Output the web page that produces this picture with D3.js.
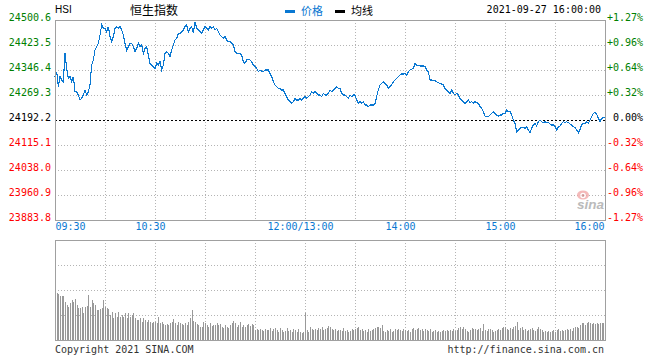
<!DOCTYPE html>
<html><head><meta charset="utf-8">
<script src="https://cdn.jsdelivr.net/npm/d3@7"></script>
<style>
html,body{margin:0;padding:0;background:#fff;}
svg{display:block;}
.mono{font-family:"DejaVu Sans Mono","Liberation Mono",monospace;font-size:10px;}
</style></head><body>
<svg id="c" width="660" height="360"></svg>
<script>
// ---------------- data ----------------
const symbol = "HSI";
const title = "恒生指数";
const dateLabel = "2021-09-27 16:00:00";
const prevClose = 24192.2;
const priceTicks = [24500.6, 24423.5, 24346.4, 24269.3, 24192.2, 24115.1, 24038.0, 23960.9, 23883.8];
const pctTicks = ["+1.27%", "+0.96%", "+0.64%", "+0.32%", " 0.00%", "-0.32%", "-0.64%", "-0.96%", "-1.27%"];
const timeTickPos = [0, 60, 150, 210, 270, 330];          // minutes since 09:30 (lunch removed)
const timeTickLabels = ["09:30", "10:30", "12:00/13:00", "14:00", "15:00", "16:00"];
const legendLabels = ["价格", "均线"];
const footerLeft = "Copyright 2021 SINA.COM";
const footerRight = "http://finance.sina.com.cn";

// one value per trading minute
const prices = [
24325.8,24341.3,24295.0,24325.8,24315.6,24310.4,24397.8,24351.5,24320.7,24325.8,
24310.4,24325.8,24279.6,24279.6,24269.3,24253.9,24259.0,24269.3,24284.7,24269.3,
24279.6,24300.2,24361.8,24377.2,24408.1,24418.4,24428.6,24454.4,24485.2,24474.9,
24474.9,24464.6,24480.0,24449.2,24433.8,24449.2,24474.9,24480.0,24474.9,24480.0,
24469.8,24454.4,24428.6,24408.1,24418.4,24428.6,24428.6,24418.4,24402.9,24413.2,
24428.6,24418.4,24423.5,24397.8,24413.2,24418.4,24392.7,24367.0,24361.8,24356.6,
24351.5,24367.0,24361.8,24372.1,24346.4,24361.8,24397.8,24402.9,24397.8,24387.5,
24408.1,24423.5,24438.9,24444.1,24459.5,24459.5,24464.6,24469.8,24480.0,24485.2,
24464.6,24474.9,24480.0,24459.5,24495.5,24474.9,24469.8,24464.6,24459.5,24469.8,
24480.0,24474.9,24469.8,24480.0,24474.9,24480.0,24469.8,24474.9,24464.6,24454.4,
24449.2,24444.1,24449.2,24438.9,24433.8,24433.8,24428.6,24423.5,24402.9,24397.8,
24397.8,24397.8,24392.7,24372.1,24367.0,24377.2,24379.3,24377.2,
24372.1,24361.8,24356.6,24351.5,24341.3,24346.4,24343.3,24341.3,24346.4,24346.4,
24346.4,24336.1,24325.8,24310.4,24300.2,24295.0,24289.9,24289.9,24284.7,24284.7,
24274.4,24264.2,24253.9,24248.7,24243.6,24248.7,24259.0,24253.9,24253.9,24259.0,
24253.9,24259.0,24264.2,24259.0,24264.2,24269.3,24279.6,24274.4,24279.6,24274.4,
24269.3,24269.3,24264.2,24274.4,24269.3,24269.3,24274.4,24284.7,24279.6,24284.7,
24289.9,24295.0,24289.9,24289.9,24274.4,24269.3,24269.3,24264.2,24259.0,24269.3,
24264.2,24269.3,24269.3,24253.9,24243.6,24248.7,24243.6,24248.7,24238.5,24238.5,
24233.3,24238.5,24238.5,24238.5,24243.6,24264.2,24284.7,24300.2,24305.3,24310.4,
24305.3,24300.2,24289.9,24295.0,24300.2,24310.4,24315.6,24320.7,24325.8,24331.0,
24334.1,24334.1,24336.1,24331.0,24341.3,24346.4,24348.5,24351.5,24367.0,24361.8,
24359.8,24358.7,24358.7,24358.7,24356.7,24346.4,24341.3,24315.6,24315.6,24313.5,
24313.5,24310.4,24307.3,24305.3,24303.2,24300.1,24289.9,24284.7,24279.6,24274.4,
24284.7,24274.4,24269.3,24274.4,24269.3,24259.0,24253.9,24248.7,24243.6,24248.7,
24253.9,24245.7,24248.7,24243.6,24248.7,24245.7,24243.6,24233.3,24228.2,24217.9,
24204.5,24202.5,24202.5,24207.6,24212.8,24217.9,24212.8,24207.6,24204.5,24207.6,
24207.6,24212.8,24210.7,24223.0,24217.9,24217.9,24207.6,24192.2,24181.9,24156.3,
24161.4,24166.5,24169.6,24169.6,24166.5,24171.7,24161.4,24153.1,24166.5,24176.8,
24181.9,24173.7,24187.1,24192.2,24187.1,24184.0,24187.1,24184.0,24184.0,24179.9,
24176.8,24176.8,24171.7,24161.4,24171.7,24173.7,24181.9,24187.1,24184.0,24187.1,
24184.0,24179.9,24176.8,24171.7,24169.6,24161.4,24153.1,24163.4,24176.8,24181.9,
24179.9,24187.1,24181.9,24192.2,24202.5,24212.8,24214.8,24210.7,24197.3,24187.1,
24197.3,24199.4,24199.4
];

// volume per minute (relative units)
const volumes = [
48.3,47.3,45.7,44,44,44,38.3,35,33.3,36.7,
40,37.7,40.7,35,31.7,31.7,33.3,26.7,33.3,34,
45,33.3,40,36.7,35,30,30,30.7,31.7,40,
33.3,31.7,30.7,25,28.3,21.7,26.7,23.3,28.3,23.3,
25,23.3,26.7,21.7,26.7,23.3,25,26.7,21.7,20,
20,21.7,18.3,21.7,20,18.3,20,18.3,16.7,18.3,
18.3,17.3,23.3,16.7,18.3,16,15,16,15,16.7,
18.3,20.7,16.7,15,18.3,16.7,16,15,17.3,15,
18.3,21.7,30,19,18.3,16,15,12.7,12.7,18.3,
16.7,15,13.3,16.7,14,15,15,16.7,15,16,
13.3,11.7,15,12.7,11.7,15,16.7,19.3,16.7,13.3,
15,18.3,13.3,15,12.7,15,16,14,16,15,
10,10.7,10,10.7,10,9.3,10.7,10,10,11.7,
9.3,10.7,11.7,10,8.3,11.7,10,8.3,9.3,11.7,
9.3,10,8.3,10.7,10,8.3,10.7,8.3,7.3,8.3,
27.3,10,8.3,13.3,10.7,10,10.7,10,11.7,10.7,
13.3,10,10.7,11.7,14,12.7,10.7,10,10.7,9.3,
10,10,
9.3,11.7,9.3,10,8.3,9.3,10.7,10,10.7,11.7,
12.7,10,10.7,9.3,10,8.3,10.7,9.3,10,10.7,
11.7,12.7,13.3,11.7,15,9.3,8.3,10,9.3,10.7,
8.3,9.3,10.7,10,10.7,10,9.3,10.7,10,9.3,
10,8.3,10.7,11.7,10,10.7,11.7,10,10.7,9.3,
10.7,10,9.3,10.7,8.3,9.3,10,8.3,9.3,8.3,
9.3,10,9.3,10,9.3,10,9.3,10.7,9.3,10,
11.7,12.7,10.7,13.3,10.7,9.3,8.3,10,11.7,10.7,
10.7,10,10.7,11.7,9.3,16,10,9.3,10.7,10.7,
10,8.3,9.3,10,10.7,10,11.7,12.7,13.3,10.7,
10,11.7,10.7,12.7,14,18.3,10,11.7,12.7,10,
10.7,9.3,10,10.7,11.7,10,9.3,10.7,12.7,10.7,
10,8.3,9.3,8.3,9.3,8.3,9.3,10,8.3,10,
10.7,9.3,10,9.3,10,10.7,10,10.7,9.3,11.7,
12.7,12.7,11.7,15,16.7,16.7,15,17.3,18.3,17.3,
16,17.3,16,16.7,16,17.3,16.7,17.3,23.3
];

// ---------------- drawing ----------------
const svg = d3.select("#c");
const L = 55, R = 605, T = 20, B = 220, VT = 240, VB = 340;
const C_GREEN = "#008000", C_RED = "#ff0000", C_BLUE = "#0a78d2", C_GRID = "#b4b4b4", C_BORDER = "#a0a0a0";

const x = d3.scaleLinear().domain([0, 330]).range([L, R]);
const y = d3.scaleLinear().domain([priceTicks[priceTicks.length - 1], priceTicks[0]]).range([B, T]);
const yv = d3.scaleLinear().domain([0, 100]).range([VB, VT]);

const gridX = d3.range(30, 330, 30);

// main grid
const g = svg.append("g").attr("shape-rendering", "crispEdges");
g.selectAll("line.hg").data(priceTicks.filter((d, i) => i > 0 && i < priceTicks.length - 1 && d !== prevClose))
  .join("line").attr("x1", L).attr("x2", R).attr("y1", d => Math.round(y(d)) + 0.5).attr("y2", d => Math.round(y(d)) + 0.5)
  .attr("stroke", C_GRID).attr("stroke-dasharray", "1,2");
g.selectAll("line.vg").data(gridX).join("line")
  .attr("x1", d => Math.round(x(d)) + 0.5).attr("x2", d => Math.round(x(d)) + 0.5).attr("y1", T).attr("y2", B)
  .attr("stroke", C_GRID).attr("stroke-dasharray", "1,2");

// volume grid
const gv = svg.append("g").attr("shape-rendering", "crispEdges");
const vGridVals = [25, 50, 75];
gv.selectAll("line.hv").data(vGridVals).join("line")
  .attr("x1", L).attr("x2", R).attr("y1", d => yv(d) + 0.5).attr("y2", d => yv(d) + 0.5)
  .attr("stroke", C_GRID).attr("stroke-dasharray", "1,2");
gv.selectAll("line.vv").data(gridX).join("line")
  .attr("x1", d => Math.round(x(d)) + 0.5).attr("x2", d => Math.round(x(d)) + 0.5).attr("y1", VT).attr("y2", VB)
  .attr("stroke", C_GRID).attr("stroke-dasharray", "1,2");

// volume bars
svg.append("g").attr("shape-rendering", "crispEdges").selectAll("rect").data(volumes).join("rect")
  .attr("x", (d, i) => Math.round(x(i)))
  .attr("width", 1)
  .attr("y", d => Math.round(yv(d)))
  .attr("height", d => VB - Math.round(yv(d)))
  .attr("fill", "#999999");

// sina watermark
const wm = svg.append("g").attr("opacity", 0.8);
wm.append("ellipse").attr("cx", 583).attr("cy", 195).attr("rx", 6).attr("ry", 4.5).attr("fill", "#f2a8a8");
wm.append("circle").attr("cx", 583).attr("cy", 195.5).attr("r", 2.8).attr("fill", "#fff");
wm.append("circle").attr("cx", 583).attr("cy", 195.5).attr("r", 1.4).attr("fill", "#c88");
wm.append("text").attr("x", 577).attr("y", 208.5).attr("font-family", "Liberation Sans, Arial, sans-serif")
  .attr("font-style", "italic").attr("font-weight", "bold").attr("font-size", 13.5).attr("fill", "#aaaaaa").text("sina");

// prev close dashed
svg.append("line").attr("shape-rendering", "crispEdges")
  .attr("x1", L).attr("x2", R).attr("y1", Math.round(y(prevClose)) + 0.5).attr("y2", Math.round(y(prevClose)) + 0.5)
  .attr("stroke", "#000").attr("stroke-dasharray", "2,2");

// price line
const line = d3.line().x((d, i) => x(i)).y(d => y(d));
svg.append("path").datum(prices).attr("d", line).attr("fill", "none")
  .attr("stroke", C_BLUE).attr("stroke-width", 1.1).attr("shape-rendering", "crispEdges");

// borders
const bd = svg.append("g").attr("shape-rendering", "crispEdges").attr("fill", "none").attr("stroke", C_BORDER);
bd.append("rect").attr("x", L + 0.5).attr("y", T + 0.5).attr("width", R - L).attr("height", B - T);
bd.append("rect").attr("x", L + 0.5).attr("y", VT + 0.5).attr("width", R - L).attr("height", VB - VT);

// left axis
const colorFor = d => d > prevClose ? C_GREEN : (d < prevClose ? C_RED : "#000");
const ax = svg.append("g").attr("transform", `translate(${L},0)`)
  .call(d3.axisLeft(y).tickValues(priceTicks).tickSize(0).tickPadding(4).tickFormat(d3.format(".1f")));
ax.select(".domain").remove();
ax.selectAll("text").attr("class", "mono").attr("font-family", null).attr("font-size", null)
  .attr("y", -3).attr("fill", d => colorFor(d));

// right axis
const ar = svg.append("g").attr("transform", `translate(${R},0)`)
  .call(d3.axisRight(y).tickValues(priceTicks).tickSize(0).tickPadding(2).tickFormat((d, i) => pctTicks[i]));
ar.select(".domain").remove();
ar.selectAll("text").attr("class", "mono").attr("font-family", null).attr("font-size", null)
  .attr("y", -3).attr("fill", d => colorFor(d)).style("white-space", "pre");

// bottom time axis
const ab = svg.append("g").attr("transform", `translate(0,${B})`)
  .call(d3.axisBottom(x).tickValues(timeTickPos).tickSize(0).tickPadding(3).tickFormat((d, i) => timeTickLabels[i]));
ab.select(".domain").remove();
ab.selectAll("text").attr("class", "mono").attr("font-family", null).attr("font-size", null)
  .attr("fill", C_BLUE)
  .attr("text-anchor", (d, i) => i === 0 ? "start" : (i === timeTickPos.length - 1 ? "end" : "middle"))
  .attr("x", (d, i) => i === 0 ? 0 : (i === timeTickPos.length - 1 ? -1 : -5));

// header
svg.append("text").attr("x", 55).attr("y", 13).attr("font-family", "Liberation Sans, Arial, sans-serif")
  .attr("font-size", 10).attr("fill", "#000").text(symbol);
svg.append("text").attr("x", 130).attr("y", 14.5).attr("font-family", "Noto Sans CJK SC, sans-serif")
  .attr("font-size", 12).attr("fill", "#000").text(title);
svg.append("rect").attr("x", 285).attr("y", 10).attr("width", 10).attr("height", 3).attr("fill", C_BLUE);
svg.append("text").attr("x", 301).attr("y", 14.5).attr("font-family", "Noto Sans CJK SC, sans-serif")
  .attr("font-size", 11).attr("fill", C_BLUE).text(legendLabels[0]);
svg.append("rect").attr("x", 335).attr("y", 10).attr("width", 10).attr("height", 3).attr("fill", "#000");
svg.append("text").attr("x", 351).attr("y", 14.5).attr("font-family", "Noto Sans CJK SC, sans-serif")
  .attr("font-size", 11).attr("fill", "#000").text(legendLabels[1]);
svg.append("text").attr("class", "mono").attr("x", 601).attr("y", 13).attr("text-anchor", "end")
  .attr("fill", "#000").text(dateLabel);

// footer
svg.append("text").attr("class", "mono").attr("x", 55).attr("y", 352.5).attr("fill", "#333").text(footerLeft);
svg.append("text").attr("class", "mono").attr("x", 604).attr("y", 352.5).attr("text-anchor", "end").attr("fill", "#333").text(footerRight);
</script>
</body></html>
